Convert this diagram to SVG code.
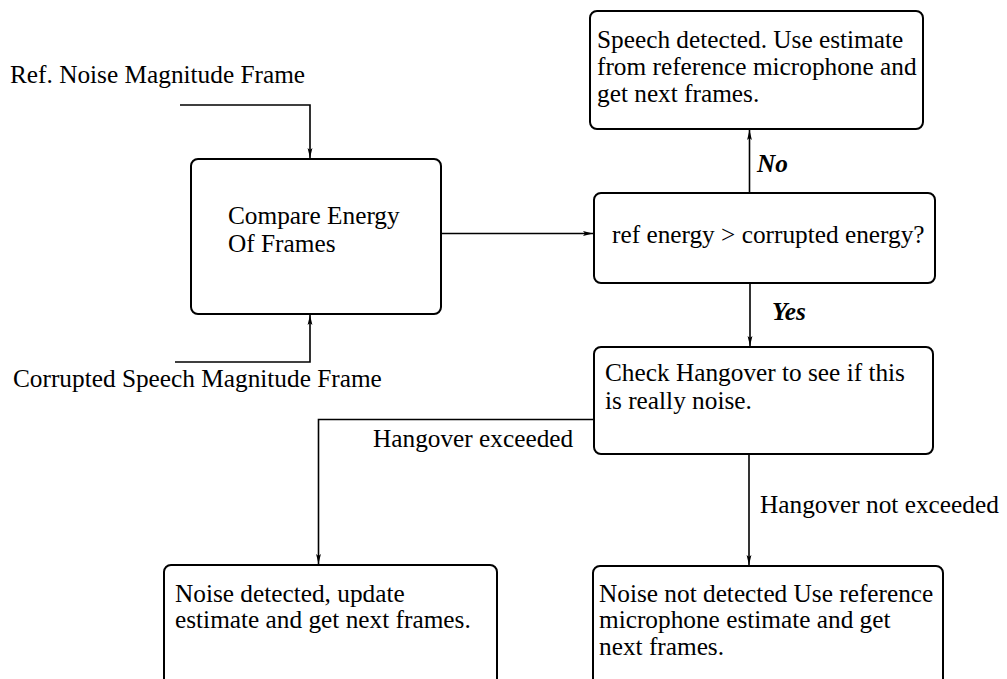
<svg xmlns="http://www.w3.org/2000/svg" width="1007" height="679" viewBox="0 0 1007 679">
  <style>
    .box { fill: #ffffff; stroke: #000000; stroke-width: 2; }
    .wire { fill: none; stroke: #000000; stroke-width: 1.6; }
    text { font-family: "Liberation Serif", "Times New Roman", serif; font-size: 25.3px; fill: #000000; }
    .tag { font-weight: bold; font-style: italic; }
  </style>
  <defs>
    <marker id="arrow" viewBox="0 0 10 6" refX="10" refY="3" markerWidth="10" markerHeight="6" markerUnits="userSpaceOnUse" orient="auto">
      <path d="M0,0.6 L10,3 L0,5.4 L2,3 Z" fill="#000000"/>
    </marker>
  </defs>

  <rect width="1007" height="679" fill="#ffffff"/>

  <!-- connectors -->
  <g id="connectors">
    <polyline class="wire" points="180,105 310,105 310,158" marker-end="url(#arrow)"/>
    <polyline class="wire" points="175,362 310,362 310,315" marker-end="url(#arrow)"/>
    <line class="wire" x1="441" y1="233.5" x2="593" y2="233.5" marker-end="url(#arrow)"/>
    <line class="wire" x1="749.5" y1="193" x2="749.5" y2="130" marker-end="url(#arrow)"/>
    <line class="wire" x1="750" y1="283" x2="750" y2="346" marker-end="url(#arrow)"/>
    <polyline class="wire" points="594,419.5 318.5,419.5 318.5,564" marker-end="url(#arrow)"/>
    <line class="wire" x1="749" y1="454" x2="749" y2="565" marker-end="url(#arrow)"/>
    <text x="10" y="83">Ref. Noise Magnitude Frame</text>
    <text x="13" y="387">Corrupted Speech Magnitude Frame</text>
    <text class="tag" x="757" y="172">No</text>
    <text class="tag" x="772" y="320">Yes</text>
    <text x="373" y="447">Hangover exceeded</text>
    <text x="760" y="513">Hangover not exceeded</text>
  </g>

  <g id="compare">
    <rect class="box" x="191" y="159" width="250" height="155" rx="7"/>
    <text x="228" y="224">Compare Energy</text>
    <text x="228" y="252">Of Frames</text>
  </g>

  <g id="decision">
    <rect class="box" x="594" y="193" width="341" height="90" rx="7"/>
    <text x="612" y="243">ref energy &gt; corrupted energy?</text>
  </g>

  <g id="speech">
    <rect class="box" x="590" y="11" width="333" height="118" rx="7"/>
    <text x="597" y="48">Speech detected. Use estimate</text>
    <text x="597" y="75">from reference microphone and</text>
    <text x="597" y="102">get next frames.</text>
  </g>

  <g id="hangover">
    <rect class="box" x="594" y="347" width="339" height="107" rx="7"/>
    <text x="605" y="381">Check Hangover to see if this</text>
    <text x="605" y="409">is really noise.</text>
  </g>

  <g id="noise-detected">
    <rect class="box" x="164" y="565" width="333" height="130" rx="7"/>
    <text x="175" y="602">Noise detected, update</text>
    <text x="175" y="628">estimate and get next frames.</text>
  </g>

  <g id="noise-not-detected">
    <rect class="box" x="593" y="566" width="350" height="130" rx="7"/>
    <text x="599" y="602">Noise not detected Use reference</text>
    <text x="599" y="628">microphone estimate and get</text>
    <text x="599" y="655">next frames.</text>
  </g>
</svg>
